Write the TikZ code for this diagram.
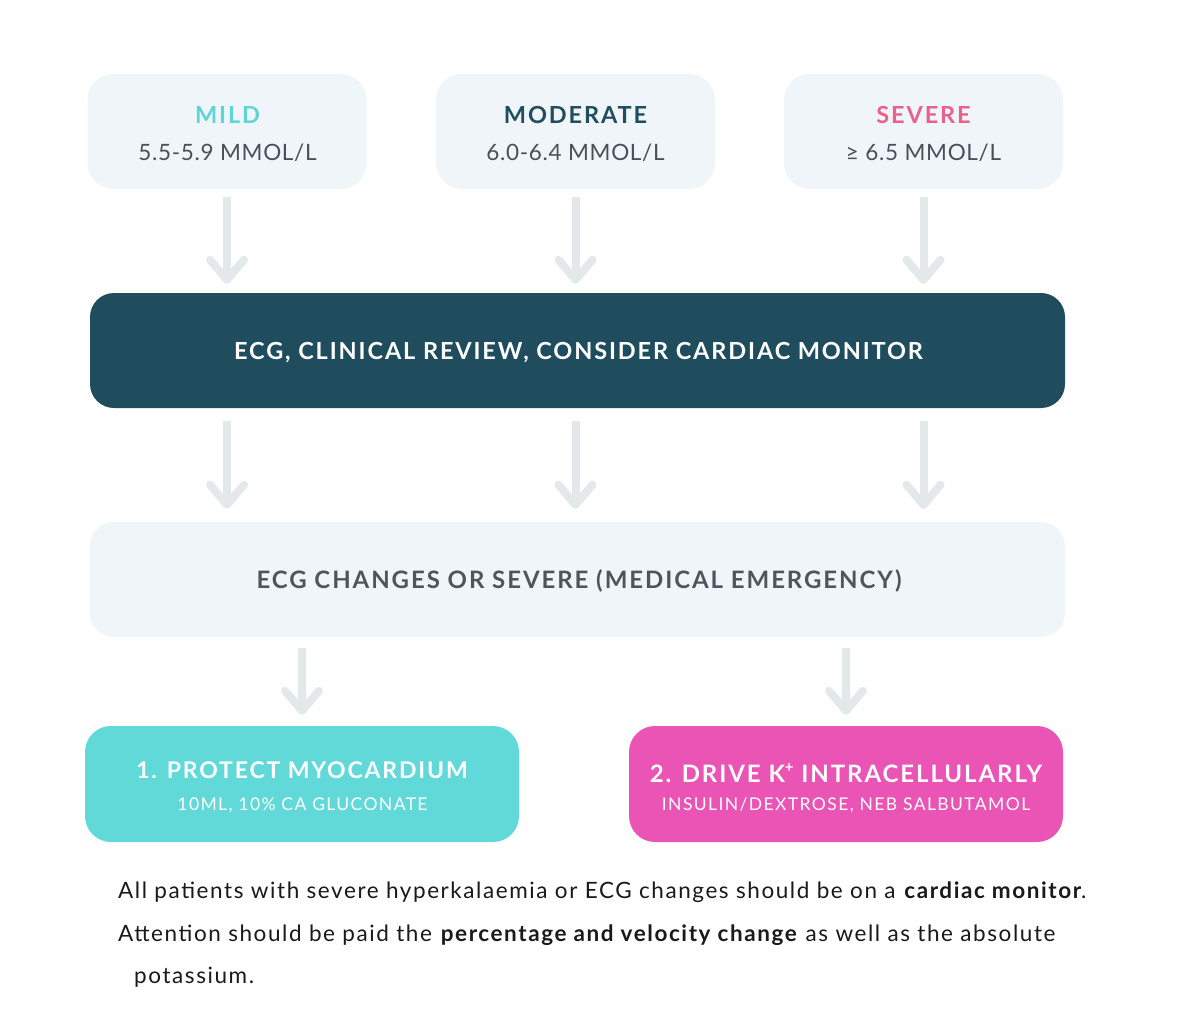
\documentclass[tikz,border=0pt]{standalone}
\usepackage{fontspec}
\setmainfont{Lato}
\newfontfamily\capsfont[LetterSpace=8]{Lato}
\newfontfamily\valfont[LetterSpace=3]{Lato}
\newfontfamily\notefont[LetterSpace=7]{Lato}
\usetikzlibrary{arrows.meta}
\definecolor{boxbg}{HTML}{F0F5FA}
\definecolor{mildc}{HTML}{5ED6D4}
\definecolor{modc}{HTML}{1F4E5F}
\definecolor{sevc}{HTML}{E8628A}
\definecolor{valc}{HTML}{4B5057}
\definecolor{arrowc}{HTML}{E3E9EA}
\definecolor{darkbox}{HTML}{1F4D5E}
\definecolor{emergc}{HTML}{50555B}
\definecolor{cyanbox}{HTML}{62D9D9}
\definecolor{pinkbox}{HTML}{E954B5}
\definecolor{notec}{HTML}{1A1A1A}
\begin{document}
\begin{tikzpicture}[x=1pt,y=-1pt,
  softbox/.style={rectangle, rounded corners=26pt, fill=boxbg, inner sep=0pt, minimum height=115pt},
  topbox/.style={softbox, minimum width=279pt},
  widebox/.style={rectangle, rounded corners=24pt, inner sep=0pt, minimum width=975pt, minimum height=115pt},
  actbox/.style={rectangle, rounded corners=26pt, inner sep=0pt, minimum width=434pt, minimum height=116pt},
  ttl/.style={anchor=base, inner sep=0pt, font=\capsfont\bfseries\fontsize{23.5}{28}\selectfont},
  val/.style={anchor=base, inner sep=0pt, text=valc, font=\valfont\fontsize{22.5}{27}\selectfont},
  midtxt/.style={anchor=base, inner sep=0pt, font=\capsfont\bfseries\fontsize{23.5}{28}\selectfont},
  subtxt/.style={anchor=base, inner sep=0pt, text=white, font=\capsfont\fontsize{17.5}{21}\selectfont},
  note/.style={anchor=base west, inner sep=0pt, text=notec, font=\notefont\fontsize{22.5}{27}\selectfont},
  arr/.style={draw=arrowc, line width=8pt, -{Straight Barb[length=20pt,width=34pt,round]}}
]
\useasboundingbox (0,0) rectangle (1202,1028);
\fill[white] (0,0) rectangle (1202,1028);

% top boxes
\node[topbox] (mild) at (227,131.5) {};
\node[topbox] (moderate) at (575.5,131.5) {};
\node[topbox] (severe) at (923.5,131.5) {};
\node[ttl, text=mildc] (mildt) at (227.5,123) {MILD};
\node[val] (mildv) at (227.5,160) {5.5-5.9 MMOL/L};
\node[ttl, text=modc] (modt) at (575.5,123) {MODERATE};
\node[val] (modv) at (575.5,160) {6.0-6.4 MMOL/L};
\node[ttl, text=sevc] (sevt) at (923.5,123) {SEVERE};
\node[val] (sevv) at (923.5,160) {≥ 6.5 MMOL/L};

% dark box
\node[widebox, fill=darkbox] (ecg) at (577.5,350.5) {};
\node[midtxt, text=white] (ecgt) at (578.5,359) {ECG, CLINICAL REVIEW, CONSIDER CARDIAC MONITOR};

% emergency box
\node[widebox, fill=boxbg] (emerg) at (577.5,579.5) {};
\node[midtxt, text=emergc, font=\capsfont\bfseries\fontsize{24}{28}\selectfont] (emergt) at (579,588.5) {ECG CHANGES OR SEVERE (MEDICAL EMERGENCY)};

% action boxes
\node[actbox, fill=cyanbox] (protect) at (302,784) {};
\node[actbox, fill=pinkbox] (drive) at (846,784) {};
\node[ttl, text=white, font=\capsfont\bfseries\fontsize{23}{28}\selectfont] (protectt) at (302,778) {1. PROTECT MYOCARDIUM};
\node[subtxt] (protects) at (302.5,810) {10ML, 10\% CA GLUCONATE};
\node[ttl, text=white, font=\capsfont\bfseries\fontsize{24}{28}\selectfont] (drivet) at (846,782) {2. DRIVE K\raisebox{0.4em}{\fontsize{15}{15}\selectfont +} INTRACELLULARLY};
\node[subtxt] (drives) at (846,810) {INSULIN/DEXTROSE, NEB SALBUTAMOL};

% arrows row 1
\draw[arr, shorten >=9pt] ([yshift=-8pt]mild.south) -- (mild.south |- ecg.north);
\draw[arr, shorten >=9pt] ([yshift=-8pt]moderate.south) -- (moderate.south |- ecg.north);
\draw[arr, shorten >=9pt] ([yshift=-8pt]severe.south) -- (severe.south |- ecg.north);
% arrows row 2
\draw[arr, shorten <=13pt, shorten >=13pt] (mild.south |- ecg.south) -- (mild.south |- emerg.north);
\draw[arr, shorten <=13pt, shorten >=13pt] (moderate.south |- ecg.south) -- (moderate.south |- emerg.north);
\draw[arr, shorten <=13pt, shorten >=13pt] (severe.south |- ecg.south) -- (severe.south |- emerg.north);
% arrows row 3
\draw[arr, shorten <=11pt, shorten >=11pt] (protect.north |- emerg.south) -- (protect.north);
\draw[arr, shorten <=11pt, shorten >=11pt] (drive.north |- emerg.south) -- (drive.north);

% notes
\node[note] (note1) at (118,898) {All patients with severe hyperkalaemia or ECG changes should be on a \textbf{cardiac monitor}.};
\node[note] (note2) at (118,941) {Attention should be paid the \textbf{percentage and velocity change} as well as the absolute};
\node[note] (note3) at (134,983) {potassium.};
\end{tikzpicture}
\end{document}
